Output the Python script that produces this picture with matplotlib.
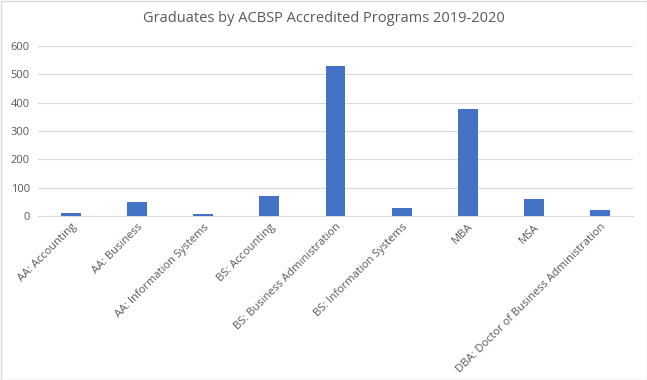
import matplotlib
matplotlib.use("Agg")
import matplotlib.pyplot as plt
from matplotlib.patches import Rectangle

categories = ["AA: Accounting", "AA: Business", "AA: Information Systems", "BS: Accounting",
              "BS: Business Administration", "BS: Information Systems", "MBA", "MSA",
              "DBA: Doctor of Business Administration"]
graduates = [11, 50, 7, 71, 529, 28, 378, 60, 21]
yticks = [0, 100, 200, 300, 400, 500, 600]

plt.rcParams['font.family'] = ['Open Sans', 'DejaVu Sans']

fig = plt.figure(figsize=(6.47, 3.80), dpi=100)
ax = fig.add_axes([38/647, 1 - 216/380, (633-38)/647, (216-46)/380])

x = list(range(len(categories)))
ax.bar(x, graduates, width=0.3, color="#4472C4", zorder=3)
ax.set_xlim(-0.5, len(categories) - 0.5)
ax.set_ylim(0, 600)
ax.set_yticks(yticks)
ax.set_yticklabels([str(v) for v in yticks], fontsize=8, color="#595959")
ax.yaxis.grid(True, color="#d9d9d9", linewidth=0.8, zorder=0)
ax.tick_params(axis='y', length=0, pad=6)
ax.tick_params(axis='x', length=0, pad=4)
ax.set_xticks(x)
ax.set_xticklabels(categories, rotation=45, ha='right', rotation_mode='anchor',
                   fontsize=8, color="#595959")
for s in ['top', 'right', 'left']:
    ax.spines[s].set_visible(False)
ax.spines['bottom'].set_color("#d9d9d9")
ax.spines['bottom'].set_linewidth(0.8)

fig.text(0.5, 1 - 18/380, "Graduates by ACBSP Accredited Programs 2019-2020",
         ha='center', va='center', fontsize=10.5, color="#595959")

fig.patches.append(Rectangle((0.5/647, 0.5/380), 1 - 1/647, 1 - 1/380,
                             transform=fig.transFigure, fill=False,
                             edgecolor="#d9d9d9", linewidth=1))

fig.savefig("out.png", dpi=100)
